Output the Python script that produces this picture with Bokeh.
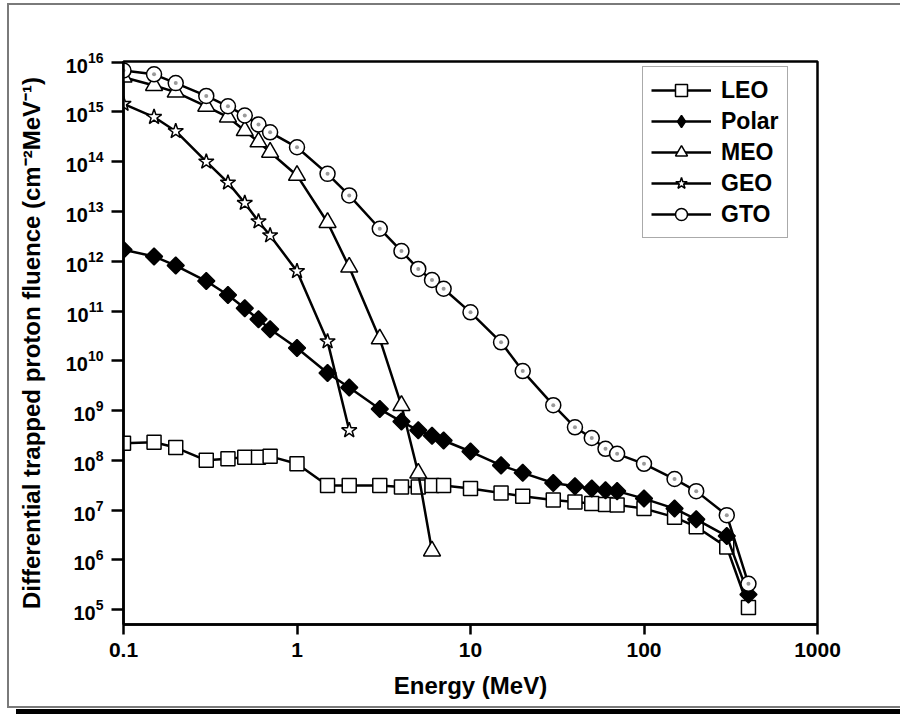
import math
from bokeh.plotting import figure
from bokeh.models import (Range1d, FixedTicker, LogTickFormatter, CustomJSTickFormatter,
                          Legend, LegendItem)
from bokeh.embed import file_html
from bokeh.resources import INLINE

# ---- data ----
energy = [0.1, 0.15, 0.2, 0.3, 0.4, 0.5, 0.6, 0.7, 1, 1.5, 2, 3, 4, 5, 6, 7,
          10, 15, 20, 30, 40, 50, 60, 70, 100, 150, 200, 300, 400]

leo = [2.2e8, 2.3e8, 1.8e8, 1.0e8, 1.07e8, 1.15e8, 1.15e8, 1.2e8, 8.5e7, 3.1e7,
       3.1e7, 3.1e7, 2.9e7, 2.9e7, 3.1e7, 3.1e7, 2.7e7, 2.2e7, 1.9e7, 1.6e7,
       1.45e7, 1.35e7, 1.3e7, 1.27e7, 1.07e7, 7.2e6, 4.6e6, 1.8e6, 1.1e5]

polar = [1.7e12, 1.25e12, 8.2e11, 4.0e11, 2.1e11, 1.14e11, 6.8e10, 4.3e10, 1.8e10,
         5.7e9, 2.9e9, 1.07e9, 6.0e8, 4.0e8, 3.1e8, 2.5e8, 1.5e8, 7.9e7, 5.6e7,
         3.5e7, 3.0e7, 2.7e7, 2.5e7, 2.4e7, 1.7e7, 1.07e7, 6.5e6, 3.0e6, 2.0e5]

meo_energy = [0.1, 0.15, 0.2, 0.3, 0.4, 0.5, 0.6, 0.7, 1, 1.5, 2, 3, 4, 5, 6]
meo = [5.0e15, 3.4e15, 2.5e15, 1.3e15, 7.9e14, 4.2e14, 2.5e14, 1.55e14, 5.3e13,
       6.0e12, 7.6e11, 2.75e10, 1.26e9, 5.5e7, 1.5e6]

geo_energy = [0.1, 0.15, 0.2, 0.3, 0.4, 0.5, 0.6, 0.7, 1, 1.5, 2]
geo = [1.45e15, 7.9e14, 4.1e14, 1.0e14, 3.8e13, 1.48e13, 6.3e12, 3.3e12, 6.3e11,
       2.45e10, 4.0e8]

gto = [6.8e15, 5.7e15, 3.8e15, 2.1e15, 1.3e15, 8.5e14, 5.6e14, 3.9e14, 1.95e14,
       5.7e13, 2.1e13, 4.5e12, 1.6e12, 7.0e11, 4.2e11, 2.8e11, 9.4e10, 2.35e10,
       6.2e9, 1.28e9, 4.6e8, 2.8e8, 1.7e8, 1.35e8, 8.5e7, 4.2e7, 2.4e7, 7.9e6, 3.3e5]

x_ticks = [0.1, 1, 10, 100, 1000]
y_ticks = [1e5, 1e6, 1e7, 1e8, 1e9, 1e10, 1e11, 1e12, 1e13, 1e14, 1e15, 1e16]

FONT = "Liberation Sans"

p = figure(width=900, height=714, x_axis_type="log", y_axis_type="log",
           x_range=Range1d(0.1, 1000), y_range=Range1d(10 ** 4.70, 10 ** 16.014),
           output_backend="svg", toolbar_location=None,
           min_border_left=123, min_border_right=83, min_border_top=61, min_border_bottom=90)

p.xgrid.visible = False
p.ygrid.visible = False
p.background_fill_color = "white"
p.border_fill_color = None
p.outline_line_color = "black"
p.outline_line_width = 2.5

# page frame (thin grey box) and thick black bar at the bottom, drawn behind the canvas
p.styles = {
    "background-color": "white",
    "background-image": ("linear-gradient(#7a7a7a,#7a7a7a), linear-gradient(#7a7a7a,#7a7a7a), "
                         "linear-gradient(#7a7a7a,#7a7a7a), linear-gradient(#000,#000)"),
    "background-size": "2px 704px, 900px 2px, 900px 2px, 900px 6px",
    "background-position": "7px 4px, 7px 3px, 7px 706px, 16px 709px",
    "background-repeat": "no-repeat",
}

p.xaxis.ticker = FixedTicker(ticks=x_ticks, minor_ticks=[])
p.xaxis.formatter = CustomJSTickFormatter(code="return tick >= 1 ? tick.toFixed(0) : String(tick);")
p.yaxis.ticker = FixedTicker(ticks=y_ticks, minor_ticks=[])
p.yaxis.formatter = LogTickFormatter()

for ax in (p.xaxis[0], p.yaxis[0]):
    ax.axis_line_width = 2.5
    ax.major_tick_line_width = 2.5
    ax.major_tick_in = 0
    ax.minor_tick_line_color = None
    ax.major_label_text_font = FONT
    ax.major_label_text_font_style = "bold"
    ax.major_label_text_color = "black"
    ax.axis_label_text_font = FONT
    ax.axis_label_text_font_style = "bold"
    ax.axis_label_text_font_size = "24px"
    ax.axis_label_text_color = "black"

p.xaxis.major_tick_out = 10
p.xaxis.major_label_text_font_size = "21px"
p.xaxis.major_label_standoff = 8
p.xaxis.axis_label = "Energy (MeV)"
p.xaxis.axis_label_standoff = 12

p.yaxis.major_tick_out = 12
p.yaxis.major_label_text_font_size = "20px"
p.yaxis.major_label_standoff = 8
p.yaxis.axis_label = "Differential trapped proton fluence (cm\u207b\u00b2MeV\u207b\u00b9)"
p.yaxis.axis_label_standoff = 18

LW = 2.5
items = []

def series(name, xs, ys, marker, size, fill, angle=0.0, legend_marker=None):
    ln = p.line(xs, ys, line_color="black", line_width=LW)
    sc = p.scatter(xs, ys, marker=marker, size=size, fill_color=fill, angle=angle,
                   line_color="black", line_width=1.5)
    if name == "GTO":
        p.scatter(xs, ys, marker="circle", size=4, fill_color="#9a9a9a", line_color=None)
    if legend_marker is not None:
        # legend-only glyph, its single point lies outside the visible ranges
        sc = p.scatter([0.001], [10.0], marker=legend_marker, size=size, fill_color=fill,
                       line_color="black", line_width=1.5)
    items.append(LegendItem(label=name, renderers=[ln, sc]))

series("LEO", energy, leo, "square", 14, "white")
series("Polar", energy, polar, "square", 12, "black", angle=math.pi / 4,
       legend_marker="diamond")
series("MEO", meo_energy, meo, "triangle", 17, "white")
series("GEO", geo_energy, geo, "star", 16, "white")
series("GTO", energy, gto, "circle", 15, "white")

legend = Legend(items=items, location=(519, 386),
                glyph_width=60, glyph_height=30, label_height=30, spacing=1,
                padding=8, label_standoff=10, margin=0,
                label_text_font=FONT, label_text_font_style="bold",
                label_text_font_size="23px", label_text_color="black",
                border_line_color="#555555", border_line_width=1.5,
                background_fill_color="white", background_fill_alpha=1)
p.add_layout(legend)

open("out.html", "w").write(file_html(p, INLINE))
